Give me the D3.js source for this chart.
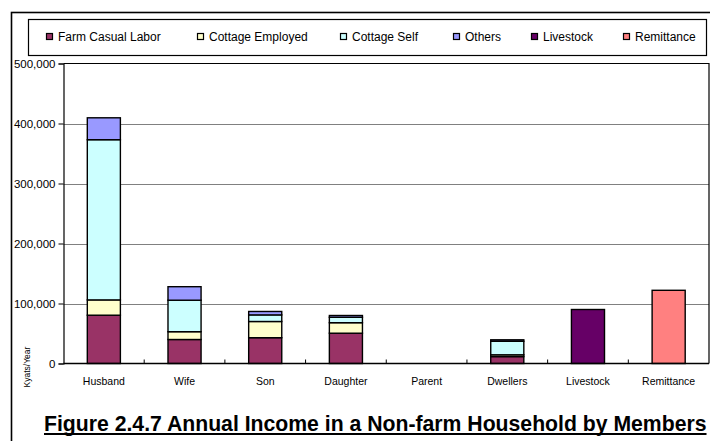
<!DOCTYPE html>
<html>
<head>
<meta charset="utf-8">
<script src="https://cdn.jsdelivr.net/npm/d3@7"></script>
<style>
  html, body { margin: 0; padding: 0; background: #fff; }
  svg { display: block; }
  text { font-family: Arial, "Liberation Sans", sans-serif; fill: #000; }
</style>
</head>
<body>
<svg id="chart" width="710" height="441"></svg>
<script>
// Household members / income sources along the x axis
const categories = ["Husband", "Wife", "Son", "Daughter", "Parent", "Dwellers", "Livestock", "Remittance"];

// Annual income (Kyats/Year) by source, stacked per member
const farmCasualLabor = [80500, 40000, 43000, 50500, 0, 11500, 0, 0];
const cottageEmployed = [25500, 13000, 27000, 17500, 0, 3000, 0, 0];
const cottageSelf     = [267000, 52500, 11000, 9000, 0, 22500, 0, 0];
const others          = [36500, 22500, 5700, 3000, 0, 2500, 0, 0];
const livestock       = [0, 0, 0, 0, 0, 0, 90000, 0];
const remittance      = [0, 0, 0, 0, 0, 0, 0, 122000];

const seriesNames = ["Farm Casual Labor", "Cottage Employed", "Cottage Self", "Others", "Livestock", "Remittance"];
const seriesValues = [farmCasualLabor, cottageEmployed, cottageSelf, others, livestock, remittance];
const seriesColors = ["#993366", "#FFFFCC", "#CCFFFF", "#9999FF", "#660066", "#FF8080"];

const yTicks = [0, 100000, 200000, 300000, 400000, 500000];
const yAxisTitle = "Kyats/Year";
const figureTitle = "Figure 2.4.7 Annual Income in a Non-farm Household by Members";

const svg = d3.select("#chart");

// outer chart frame
svg.append("rect")
  .attr("x", 11.5).attr("y", 12.5)
  .attr("width", 740).attr("height", 460)
  .attr("fill", "#fff").attr("stroke", "#000").attr("stroke-width", 1.6);

// plot geometry
const plot = { left: 63.5, right: 709, top: 63.5, bottom: 363.5 };

const x = d3.scaleBand()
  .domain(categories)
  .range([plot.left, plot.right])
  .paddingInner(0.59)
  .paddingOuter(0.295);

const y = d3.scaleLinear()
  .domain([0, 500000])
  .range([plot.bottom, plot.top]);

// gridlines
svg.append("g")
  .selectAll("line")
  .data(yTicks.filter(t => t > 0 && t < 500000))
  .join("line")
  .attr("x1", plot.left).attr("x2", plot.right)
  .attr("y1", d => Math.round(y(d)) + 0.5).attr("y2", d => Math.round(y(d)) + 0.5)
  .attr("stroke", "#808080").attr("stroke-width", 1);

// plot border (top and right)
svg.append("path")
  .attr("d", `M${plot.left},${plot.top}H${plot.right}V${plot.bottom}`)
  .attr("fill", "none").attr("stroke", "#000").attr("stroke-width", 1.2);

// stacked data
const rows = categories.map((c, i) => {
  const r = { category: c };
  seriesNames.forEach((s, j) => { r[s] = seriesValues[j][i]; });
  return r;
});
const stacked = d3.stack().keys(seriesNames)(rows);

svg.append("g")
  .selectAll("g")
  .data(stacked)
  .join("g")
  .attr("fill", (d, i) => seriesColors[i])
  .selectAll("rect")
  .data(d => d.filter(s => s[1] - s[0] > 0))
  .join("rect")
  .attr("x", d => x(d.data.category))
  .attr("width", x.bandwidth())
  .attr("y", d => y(d[1]))
  .attr("height", d => y(d[0]) - y(d[1]))
  .attr("stroke", "#000")
  .attr("stroke-width", 1.4);

// y axis
const yAxis = d3.axisLeft(y)
  .tickValues(yTicks)
  .tickSize(5)
  .tickPadding(3)
  .tickFormat(d3.format(","));
const yg = svg.append("g")
  .attr("transform", `translate(${plot.left},0)`)
  .call(yAxis);
yg.select(".domain").attr("stroke", "#000").attr("stroke-width", 1.2);
yg.selectAll(".tick line").attr("stroke", "#000");
yg.selectAll(".tick text")
  .attr("font-size", "11.5px")
  .attr("font-family", "Arial, 'Liberation Sans', sans-serif")
  .attr("x", -8);

// x axis with inside ticks at category boundaries
const xg = svg.append("g")
  .attr("transform", `translate(0,${plot.bottom})`);
xg.append("line")
  .attr("x1", plot.left).attr("x2", plot.right)
  .attr("stroke", "#000").attr("stroke-width", 1.4);
const step = x.step();
const boundaries = categories.slice(1).map(c => x(c) - (step - x.bandwidth()) / 2);
xg.selectAll("line.tk")
  .data(boundaries)
  .join("line")
  .attr("class", "tk")
  .attr("x1", d => d).attr("x2", d => d)
  .attr("y1", 0).attr("y2", -4)
  .attr("stroke", "#000").attr("stroke-width", 1);
xg.selectAll("text")
  .data(categories)
  .join("text")
  .attr("x", d => x(d) + x.bandwidth() / 2)
  .attr("y", 21.5)
  .attr("text-anchor", "middle")
  .attr("font-size", "10.5px")
  .text(d => d);

// y axis title
svg.append("text")
  .attr("transform", "translate(30,367) rotate(-90)")
  .attr("text-anchor", "middle")
  .attr("font-size", "8.5px")
  .text(yAxisTitle);

// legend
svg.append("rect")
  .attr("x", 28.5).attr("y", 19.5)
  .attr("width", 678).attr("height", 36)
  .attr("fill", "#fff").attr("stroke", "#000").attr("stroke-width", 1.2);
const legendX = [46, 197, 340, 453, 531, 623];
const lg = svg.append("g")
  .selectAll("g")
  .data(seriesNames)
  .join("g")
  .attr("transform", (d, i) => `translate(${legendX[i]},37)`);
lg.append("rect")
  .attr("x", 0.5).attr("y", -3.5)
  .attr("width", 6).attr("height", 6)
  .attr("fill", (d, i) => seriesColors[i])
  .attr("stroke", "#000").attr("stroke-width", 1.2);
lg.append("text")
  .attr("x", 12).attr("y", 4)
  .attr("font-size", "12px")
  .text(d => d);

// figure caption, underlined, fitted to its span
const title = svg.append("text")
  .attr("x", 44).attr("y", 431)
  .attr("font-size", "18px")
  .attr("font-weight", "bold")
  .text(figureTitle);
const tw = title.node().getComputedTextLength();
const fs = 18 * 663 / tw;
title.attr("font-size", fs + "px");
const tw2 = title.node().getComputedTextLength();
svg.append("line")
  .attr("x1", 44).attr("x2", 44 + tw2)
  .attr("y1", 434).attr("y2", 434)
  .attr("stroke", "#000").attr("stroke-width", 1.8);
</script>
</body>
</html>
